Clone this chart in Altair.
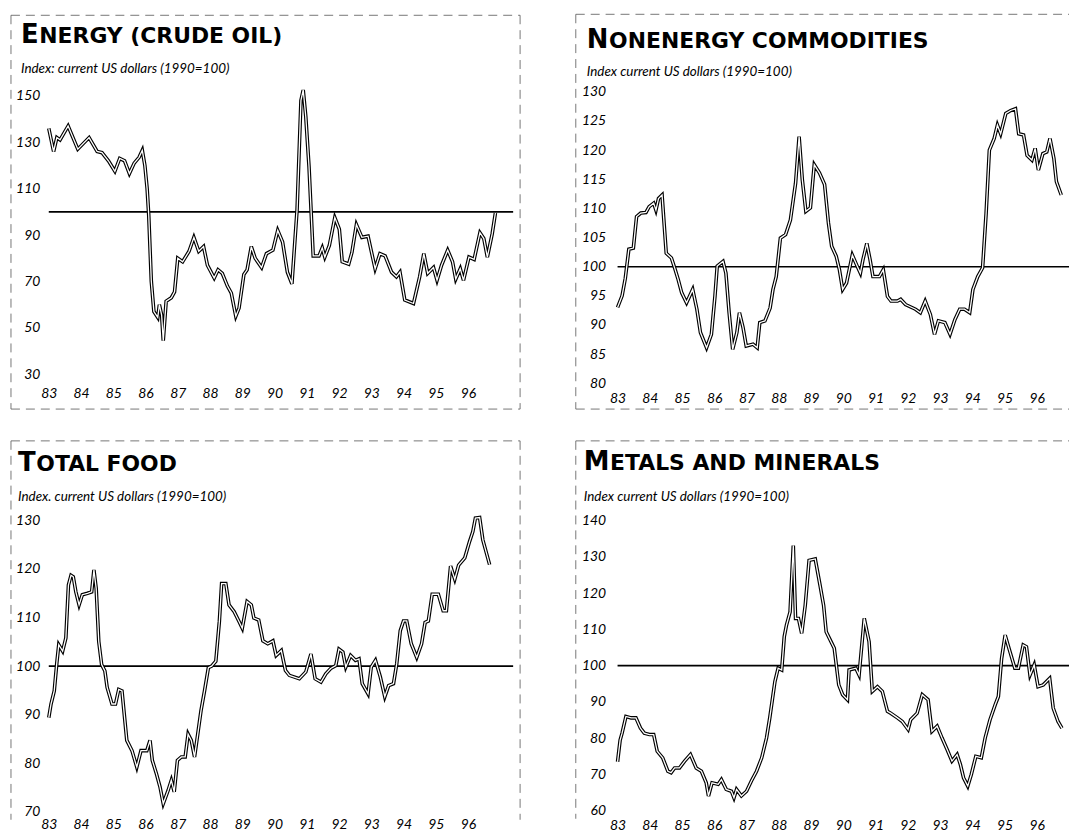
import altair as alt
import pandas as pd

# ---------------- data (index, current US dollars, 1990=100) ----------------
energy_x = [83.0,83.15,83.25,83.35,83.6,83.9,84.25,84.5,84.65,84.85,85.05,85.2,85.35,85.5,85.65,85.8,85.9,85.98,86.05,86.1,
            86.18,86.26,86.38,86.43,86.5,86.55,86.64,86.8,86.9,87.0,87.15,87.35,87.5,87.65,87.8,87.92,88.13,88.25,88.38,88.54,
            88.66,88.8,88.9,89.05,89.15,89.28,89.4,89.6,89.75,89.95,90.1,90.25,90.4,90.54,90.6,90.7,90.82,90.89,90.97,91.07,
            91.2,91.38,91.48,91.56,91.7,91.87,92.01,92.1,92.3,92.4,92.54,92.71,92.9,93.12,93.27,93.43,93.63,93.78,93.89,94.04,
            94.31,94.5,94.63,94.75,94.93,95.04,95.18,95.37,95.52,95.62,95.76,95.86,96.03,96.19,96.37,96.49,96.6,96.75,96.85]
energy_y = [136,126,132,131,137,127,132,126,125.5,122,117.5,123,122,116.5,121,123.5,126.5,120,110,98.5,
            70,57,54.5,60,55.5,44.5,61.5,63,65.5,80,78.5,83,89,83,85,77,71.5,75,73.5,68,
            65,55,58.5,73,75,85,80,76,82,83.5,92,87,74,69,81,101,148,152.5,141,119.5,
            81,81,84.5,80.5,85.5,97.5,92.5,78.5,77.5,82.5,94.5,89,89.5,75.5,82,81,74,72,74,62,
            60.5,72,82,73.5,76,70.5,77,83.5,78.5,71,75.5,70.5,80.5,79.5,91,88.5,80.5,90.5,99.5]

nonenergy_x = [83.0,83.14,83.24,83.35,83.49,83.59,83.72,83.88,83.98,84.12,84.19,84.27,84.38,84.51,84.67,84.77,84.88,84.99,85.14,85.33,
               85.46,85.57,85.76,85.91,86.02,86.09,86.27,86.36,86.46,86.57,86.7,86.78,86.89,86.99,87.2,87.33,87.41,87.57,87.73,87.82,
               87.92,88.05,88.21,88.36,88.52,88.63,88.73,88.84,88.98,89.1,89.26,89.42,89.54,89.64,89.78,89.88,89.98,90.1,90.28,90.43,
               90.53,90.61,90.73,90.83,90.92,91.12,91.24,91.37,91.48,91.68,91.78,91.93,92.24,92.39,92.54,92.7,92.83,92.95,93.15,93.31,
               93.46,93.61,93.76,93.92,94.02,94.17,94.32,94.43,94.53,94.68,94.78,94.88,95.04,95.19,95.34,95.44,95.59,95.7,95.85,95.95,
               96.05,96.19,96.31,96.41,96.53,96.61,96.76]
nonenergy_y = [93,95,98,103,103.2,108.6,109.2,109.3,110.3,110.9,109.7,111.7,112.3,102.3,101.5,99.8,97.8,95.5,93.8,96.1,
               92.7,88.7,86.1,88.4,94.9,100.1,100.9,98.9,92.1,85.8,88.7,92.1,89.6,86.4,86.7,86.1,90.4,90.7,92.9,96.1,
               98.3,104.9,105.5,108,114.3,122.3,114.9,109.5,110.1,117.5,116.1,114.1,107.5,103.5,101.8,99.5,96.1,97.2,102,100.1,
               98.9,101.2,104,101.2,98.3,98.3,99.5,94.9,94.1,94.1,94.4,93.5,92.7,92.1,94.1,91.8,88.4,90.7,90.4,88.4,
               90.9,92.7,92.7,92.1,96.1,98.3,99.8,109.2,120,122,124.3,122.8,126.3,126.8,127.1,122.8,122.6,119.1,118.3,120.3,
               116.6,119.4,119.7,122,118.6,114.6,112.3]

food_x = [83.0,83.07,83.17,83.25,83.31,83.43,83.53,83.61,83.69,83.76,83.84,83.94,84.04,84.2,84.33,84.4,84.47,84.55,84.64,84.74,
          84.81,84.96,85.07,85.17,85.27,85.42,85.58,85.73,85.86,86.04,86.14,86.21,86.34,86.45,86.55,86.7,86.8,86.89,86.99,87.11,
          87.23,87.32,87.42,87.52,87.62,87.72,87.83,87.95,88.05,88.18,88.29,88.36,88.49,88.59,88.75,88.9,89.0,89.15,89.28,89.36,
          89.51,89.64,89.79,89.95,90.05,90.21,90.34,90.46,90.77,90.97,91.13,91.26,91.44,91.59,91.74,91.9,92.0,92.12,92.21,92.36,
          92.51,92.62,92.72,92.9,93.0,93.13,93.28,93.42,93.54,93.69,93.79,93.9,94.0,94.1,94.24,94.41,94.56,94.67,94.77,94.89,
          95.08,95.23,95.33,95.46,95.59,95.71,95.9,96.05,96.15,96.23,96.36,96.46,96.67]
food_y = [89.4,92.2,94.9,100.7,104.4,103.1,105.8,116.7,118.7,118.4,115.3,112.6,114.7,115,115.3,119.8,116,105.1,100.3,99,
          95.6,92.2,92.2,95.2,94.9,84.7,82.6,79.2,82.6,82.6,84.7,80.6,77.8,75.1,71.7,74.4,76.5,74.1,80.6,81.3,
          81.3,86,84.7,81.3,86,90.8,94.9,99.7,100,101,109.2,117,117,112.6,111.2,109.2,107.8,113.3,112.6,109.9,
          109.5,105.2,104.6,105.2,102.2,103.2,99.1,98.1,97.4,98.8,102.5,97.4,96.7,98.4,99.5,100.1,103.5,102.9,99.8,102.2,
          101.2,101.5,96.4,94.3,99.8,101.2,97.8,93.7,96,96.4,100.5,107.3,109.3,109.3,104.6,101.8,104.6,109,109.3,114.8,
          114.8,111.4,111.4,120.6,117.9,120.8,122.3,125.7,127.7,130.5,130.6,126,120.9]

metals_x = [83.0,83.08,83.14,83.26,83.42,83.57,83.71,83.83,83.99,84.12,84.23,84.4,84.56,84.66,84.77,84.92,85.08,85.26,85.44,85.6,
            85.75,85.82,85.93,86.12,86.22,86.37,86.53,86.61,86.69,86.84,87.0,87.15,87.31,87.47,87.62,87.72,87.88,87.98,88.09,88.17,
            88.24,88.35,88.45,88.52,88.61,88.71,88.82,88.94,89.13,89.28,89.39,89.47,89.62,89.72,89.86,89.98,90.13,90.18,90.39,90.49,
            90.65,90.8,90.9,91.06,91.21,91.37,91.47,91.68,91.83,92.01,92.09,92.29,92.45,92.63,92.75,92.91,93.06,93.22,93.37,93.53,
            93.63,93.73,93.86,93.97,94.11,94.28,94.4,94.55,94.71,94.81,94.91,95.02,95.17,95.32,95.43,95.58,95.68,95.79,95.92,96.04,
            96.2,96.4,96.51,96.66,96.78]
metals_y = [73.5,79.5,81.4,86,85.6,85.6,82.8,81.4,81,81,76.4,74.6,70.9,70.5,71.8,71.8,73.7,75.5,71.8,70.9,
            67.7,64.1,67.7,67.3,68.6,65.9,65.4,63.6,65.9,64.1,65.4,68.2,70.9,74.6,80.1,85.6,95.6,99.3,98.8,108,
            111.2,114.8,133.1,113,113,108.9,116.6,129,129.4,122.1,116.6,109.3,106.6,104.8,94.7,92,90.6,98.8,99.3,97.4,
            113,106.6,92.9,94.2,92.9,87.4,86.9,85.6,84.6,82.4,85.1,86.9,92,90.6,81.9,83.3,80.1,76.9,73.7,75.5,
            72.8,69.1,66.8,70,75,74.6,80.1,85.1,89.2,91.5,102,108.4,103.8,99.3,99.3,105.7,105.2,97.4,100.2,94.2,
            94.7,96.5,88.3,84.6,82.8]

year_ticks = list(range(83, 97))
titles_first = ["E", "N", "T", "M"]
titles_rest = ["NERGY (CRUDE OIL)", "ONENERGY COMMODITIES", "OTAL FOOD", "ETALS AND MINERALS"]
subtitles = ["Index: current US dollars (1990=100)",
             "Index  current US dollars (1990=100)",
             "Index. current US dollars (1990=100)",
             "Index  current US dollars (1990=100)"]

PX_PER_YEAR = 32.43


def panel(i, xs, ys, xmax, ydom, yticks, height, xpad, ypad, tx, ty, sy, first_w, border):
    width = round((xmax - 83) * PX_PER_YEAR)
    df = pd.DataFrame({"year": xs, "value": ys})
    one = pd.DataFrame({"first": [titles_first[i]], "rest": [titles_rest[i]], "sub": [subtitles[i]]})
    xscale = alt.Scale(domain=[83, xmax], nice=False, zero=False)
    yscale = alt.Scale(domain=ydom, nice=False, zero=False)
    x_ax = alt.X("year:Q", scale=xscale,
                 axis=alt.Axis(values=year_ticks, tickCount=len(year_ticks), format="d", labelPadding=xpad,
                               labelFlush=False, labelOverlap=False, title=None))
    y_ax = alt.Y("value:Q", scale=yscale,
                 axis=alt.Axis(values=yticks, tickCount=len(yticks), labelPadding=ypad, labelFlush=False,
                               labelOverlap=False, title=None))
    thick = alt.Chart(df).mark_line(color="black", strokeWidth=3.6, strokeJoin="miter").encode(x=x_ax, y=y_ax)
    thin = alt.Chart(df).mark_line(color="white", strokeWidth=1.3, strokeJoin="miter").encode(x=x_ax, y=y_ax)
    rule = alt.Chart(one).mark_rule(color="black", strokeWidth=1.6).encode(y=alt.datum(100))
    t1 = alt.Chart(one).mark_text(align="left", baseline="alphabetic", font="DejaVu Sans", fontWeight="bold",
                                  fontSize=26, color="black").encode(
        x=alt.value(tx), y=alt.value(ty), text="first:N")
    t2 = alt.Chart(one).mark_text(align="left", baseline="alphabetic", font="DejaVu Sans", fontWeight="bold",
                                  fontSize=22, color="black").encode(
        x=alt.value(tx + first_w), y=alt.value(ty), text="rest:N")
    st = alt.Chart(one).mark_text(align="left", baseline="alphabetic", font="Lato", fontStyle="italic",
                                  fontSize=13.5, color="black").encode(
        x=alt.value(tx), y=alt.value(sy), text="sub:N")
    layers = [thick, rule, thin, t1, t2, st]
    bl, bt, br, bb = border
    dash = dict(color="#555", strokeWidth=1, strokeDash=[9, 6], opacity=0.8)
    right_end = br if br is not None else width
    bottom_end = bb if bb is not None else height + 8
    layers.append(alt.Chart(one).mark_rule(**dash).encode(
        x=alt.value(bl), x2=alt.value(right_end), y=alt.value(bt), y2=alt.value(bt)))
    layers.append(alt.Chart(one).mark_rule(**dash).encode(
        x=alt.value(bl), x2=alt.value(bl), y=alt.value(bt), y2=alt.value(bottom_end)))
    if br is not None:
        layers.append(alt.Chart(one).mark_rule(**dash).encode(
            x=alt.value(br), x2=alt.value(br), y=alt.value(bt), y2=alt.value(bottom_end)))
    if bb is not None:
        layers.append(alt.Chart(one).mark_rule(**dash).encode(
            x=alt.value(bl), x2=alt.value(right_end), y=alt.value(bb), y2=alt.value(bb)))
    return alt.layer(*layers).properties(width=width, height=height)


tl = panel(0, energy_x, energy_y, 97.4, [30, 151.7], list(range(30, 151, 20)), 284, 12, 9,
           -28, -49, -19, 18.5, (-38, -77, 474, 319))
tr = panel(1, nonenergy_x, nonenergy_y, 97.0, [80, 130], list(range(80, 131, 5)), 293, 8, 12,
           -31, -44, -16, 22.5, (-42, -78, None, 319))
bl = panel(2, food_x, food_y, 97.4, [70, 130], list(range(70, 131, 10)), 293, 6, 9,
           -31, -50, -20, 18.5, (-38, -80, 474, None))
br = panel(3, metals_x, metals_y, 97.0, [60, 140], list(range(60, 141, 10)), 292, 8, 12,
           -34, -51, -20, 26.5, (-42, -80, None, None))

chart = alt.concat(tl, tr, bl, br, columns=2, spacing={"row": 138, "column": 105}, bounds="flush").properties(
    padding={"left": 2, "top": 3, "right": 0, "bottom": 0}
).configure_view(stroke=None).configure_axis(
    domain=False, ticks=False, grid=False, labelOverlap=False,
    labelFont="Lato", labelFontStyle="italic", labelFontSize=14, labelColor="black"
)

chart.save("out.html", embed_options={"renderer": "svg", "actions": False})
